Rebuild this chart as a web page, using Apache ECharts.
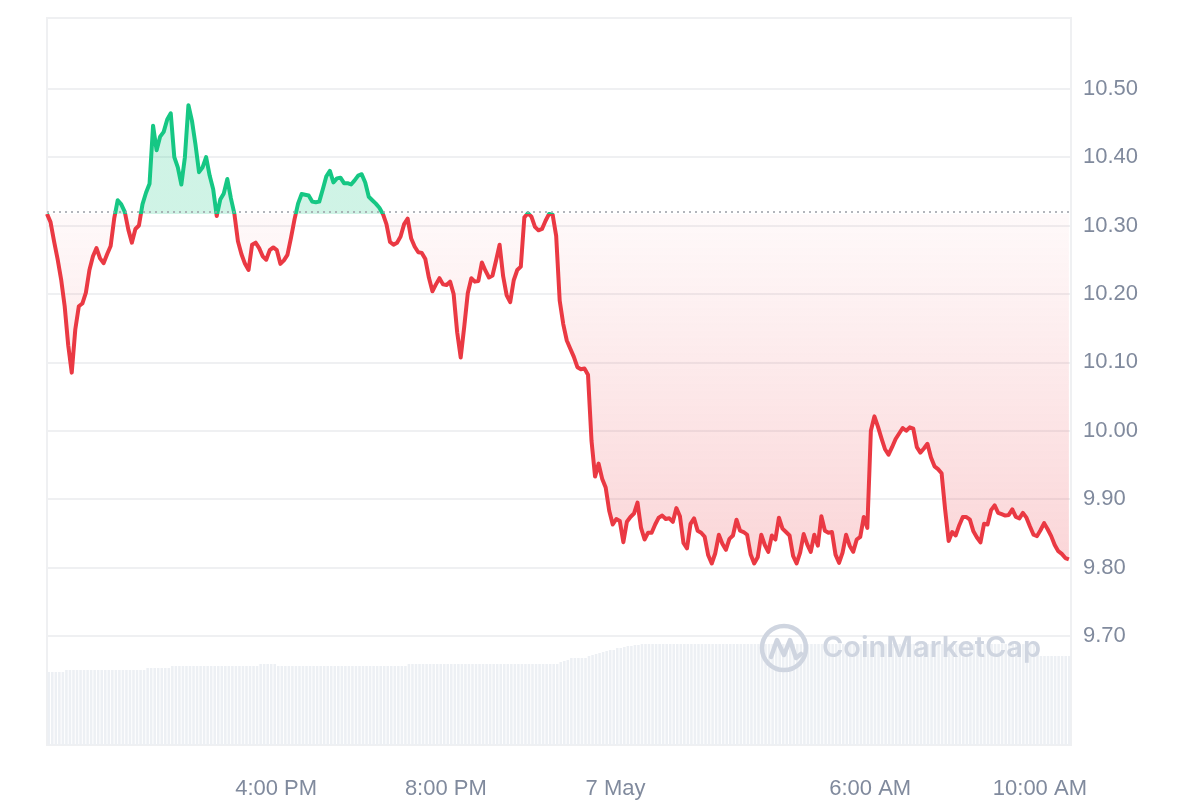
<!DOCTYPE html>
<html>
<head>
<meta charset="utf-8">
<title>Price chart</title>
<script src="https://cdn.jsdelivr.net/npm/echarts@6/dist/echarts.min.js"></script>
<style>
  html, body { margin: 0; padding: 0; background: #fff; }
  #chart { width: 1200px; height: 800px; }
</style>
</head>
<body>
<div id="chart"></div>
<script>
// price every 5 minutes, 6 May 10:36 -> 7 May 10:41
const prices = [
  10.317, 10.305, 10.277, 10.251, 10.221, 10.182, 10.125, 10.085, 10.148, 10.182,
  10.186, 10.202, 10.235, 10.255, 10.267, 10.252, 10.245, 10.258, 10.270, 10.310,
  10.337, 10.331, 10.320, 10.294, 10.275, 10.295, 10.300, 10.331, 10.348, 10.361,
  10.446, 10.410, 10.430, 10.437, 10.455, 10.464, 10.400, 10.385, 10.360, 10.400,
  10.476, 10.453, 10.418, 10.378, 10.385, 10.400, 10.373, 10.353, 10.314, 10.338,
  10.347, 10.368, 10.340, 10.317, 10.277, 10.258, 10.244, 10.235, 10.272, 10.275,
  10.267, 10.255, 10.250, 10.264, 10.268, 10.264, 10.244, 10.249, 10.257, 10.282,
  10.309, 10.332, 10.346, 10.345, 10.344, 10.335, 10.334, 10.335, 10.353, 10.372,
  10.380, 10.363, 10.369, 10.370, 10.362, 10.362, 10.360, 10.366, 10.373, 10.375,
  10.363, 10.342, 10.337, 10.332, 10.326, 10.317, 10.302, 10.276, 10.272, 10.275,
  10.284, 10.302, 10.310, 10.281, 10.269, 10.261, 10.260, 10.251, 10.224, 10.204,
  10.214, 10.223, 10.214, 10.213, 10.218, 10.200, 10.144, 10.107, 10.152, 10.201,
  10.223, 10.218, 10.219, 10.246, 10.234, 10.224, 10.227, 10.249, 10.272, 10.226,
  10.198, 10.188, 10.220, 10.235, 10.240, 10.312, 10.318, 10.313, 10.298, 10.293,
  10.295, 10.307, 10.317, 10.316, 10.285, 10.190, 10.156, 10.132, 10.120, 10.108,
  10.093, 10.090, 10.091, 10.082, 9.985, 9.933, 9.952, 9.930, 9.917, 9.883,
  9.863, 9.871, 9.868, 9.837, 9.867, 9.874, 9.879, 9.895, 9.858, 9.841,
  9.851, 9.851, 9.863, 9.873, 9.876, 9.871, 9.872, 9.867, 9.887, 9.875,
  9.836, 9.828, 9.864, 9.872, 9.854, 9.851, 9.845, 9.818, 9.806, 9.821,
  9.848, 9.835, 9.826, 9.842, 9.847, 9.870, 9.854, 9.852, 9.848, 9.819,
  9.806, 9.815, 9.848, 9.833, 9.823, 9.847, 9.841, 9.873, 9.857, 9.852,
  9.847, 9.817, 9.806, 9.822, 9.849, 9.834, 9.823, 9.848, 9.832, 9.875,
  9.854, 9.851, 9.852, 9.819, 9.807, 9.822, 9.848, 9.832, 9.823, 9.841,
  9.845, 9.874, 9.858, 10.000, 10.021, 10.006, 9.989, 9.973, 9.965, 9.976,
  9.988, 9.996, 10.004, 10.000, 10.005, 10.003, 9.976, 9.968, 9.974, 9.981,
  9.961, 9.948, 9.944, 9.938, 9.885, 9.839, 9.852, 9.847, 9.862, 9.874,
  9.874, 9.870, 9.853, 9.844, 9.837, 9.864, 9.863, 9.884, 9.891, 9.880,
  9.878, 9.876, 9.877, 9.885, 9.874, 9.872, 9.880, 9.873, 9.860, 9.848,
  9.846, 9.855, 9.865, 9.856, 9.846, 9.833, 9.824, 9.820, 9.814, 9.812
];

// 24h volume (millions), one bar per price point
const volumes = [
  7.3, 7.3, 7.3, 7.3, 7.3, 7.5, 7.5, 7.5, 7.5, 7.5,
  7.5, 7.5, 7.5, 7.5, 7.5, 7.5, 7.5, 7.5, 7.5, 7.5,
  7.5, 7.5, 7.5, 7.5, 7.5, 7.5, 7.5, 7.5, 7.7, 7.7,
  7.7, 7.7, 7.7, 7.7, 7.7, 7.9, 7.9, 7.9, 7.9, 7.9,
  7.9, 7.9, 7.9, 7.9, 7.9, 7.9, 7.9, 7.9, 7.9, 7.9,
  7.9, 7.9, 7.9, 7.9, 7.9, 7.9, 7.9, 7.9, 7.9, 7.9,
  8.1, 8.1, 8.1, 8.1, 8.1, 7.9, 7.9, 7.9, 7.9, 7.9,
  7.9, 7.9, 7.9, 7.9, 7.9, 7.9, 7.9, 7.9, 7.9, 7.9,
  7.9, 7.9, 7.9, 7.9, 7.9, 7.9, 7.9, 7.9, 7.9, 7.9,
  7.9, 7.9, 7.9, 7.9, 7.9, 7.9, 7.9, 7.9, 7.9, 7.9,
  7.9, 7.9, 8.1, 8.1, 8.1, 8.1, 8.1, 8.1, 8.1, 8.1,
  8.1, 8.1, 8.1, 8.1, 8.1, 8.1, 8.1, 8.1, 8.1, 8.1,
  8.1, 8.1, 8.1, 8.1, 8.1, 8.1, 8.1, 8.1, 8.1, 8.1,
  8.1, 8.1, 8.1, 8.1, 8.1, 8.1, 8.1, 8.1, 8.1, 8.1,
  8.1, 8.1, 8.1, 8.1, 8.1, 8.3, 8.4, 8.5, 8.7, 8.7,
  8.7, 8.7, 8.7, 8.9, 9.0, 9.1, 9.2, 9.3, 9.4, 9.5,
  9.5, 9.7, 9.7, 9.8, 9.9, 9.9, 10.0, 10.0, 10.1, 10.1,
  10.1, 10.1, 10.1, 10.1, 10.1, 10.1, 10.1, 10.1, 10.1, 10.1,
  10.1, 10.1, 10.1, 10.1, 10.1, 10.1, 10.1, 10.1, 10.1, 10.1,
  10.1, 10.1, 10.1, 10.1, 10.1, 10.1, 10.1, 10.1, 10.1, 10.1,
  10.1, 10.1, 10.1, 10.1, 10.1, 10.1, 10.1, 10.1, 10.1, 10.1,
  10.1, 10.1, 10.1, 10.1, 10.1, 10.1, 10.1, 10.1, 10.1, 10.1,
  10.1, 10.1, 10.1, 10.1, 10.1, 10.1, 10.1, 10.1, 10.1, 10.1,
  10.1, 10.1, 10.1, 10.1, 10.1, 10.1, 10.1, 10.1, 10.1, 10.1,
  10.1, 10.1, 10.1, 10.1, 10.1, 10.1, 10.1, 10.1, 10.1, 10.1,
  10.1, 10.1, 10.1, 10.1, 10.1, 10.1, 10.1, 10.1, 10.1, 10.1,
  10.1, 10.1, 10.1, 10.1, 10.1, 10.1, 10.1, 10.1, 10.1, 10.1,
  10.1, 10.1, 10.1, 10.1, 10.1, 10.1, 10.1, 10.1, 10.1, 10.1,
  10.1, 8.9, 8.9, 8.9, 8.9, 8.9, 8.9, 8.9, 8.9, 8.9
];

// opening price, dotted reference line
const baseline = 10.317;

const startTime = new Date(2024, 4, 6, 10, 36).getTime();
const endTime = new Date(2024, 4, 7, 10, 44).getTime();
const stepMs = 5 * 60 * 1000;

const tickTimes = [
  new Date(2024, 4, 6, 16, 0).getTime(),
  new Date(2024, 4, 6, 20, 0).getTime(),
  new Date(2024, 4, 7, 0, 0).getTime(),
  new Date(2024, 4, 7, 6, 0).getTime(),
  new Date(2024, 4, 7, 10, 0).getTime()
];
const tickLabels = ['4:00 PM', '8:00 PM', '7 May', '6:00 AM', '10:00 AM'];

const yMin = 9.70;
const yMax = 10.599;

const priceData = prices.map((p, i) => [startTime + i * stepMs, p]);

const green = '#16c784';
const red = '#ea3943';
const gridLine = '#eff0f2';
const labelStyle = {
  color: '#808a9d',
  fontSize: 22,
  fontFamily: 'Liberation Sans, Arial, sans-serif'
};
const markColor = '#cfd5e0';
const lineWidth = 4;

let chart = echarts.init(document.getElementById('chart'));

let option = {
  animation: false,
  grid: [
    { left: 47, right: 129, top: 21, bottom: 164 },
    { left: 47, right: 129, top: 18, bottom: 55, show: true, borderColor: gridLine, borderWidth: 2 }
  ],
  xAxis: [
    { type: 'value', gridIndex: 0, min: startTime, max: endTime, show: false },
    {
      type: 'value', gridIndex: 1, min: startTime, max: endTime,
      axisLine: { show: false },
      axisTick: { show: false },
      splitLine: { show: false },
      axisLabel: Object.assign({
        customValues: tickTimes,
        margin: 33,
        formatter: function (v) {
          let k = tickTimes.indexOf(v);
          return k >= 0 ? tickLabels[k] : '';
        }
      }, labelStyle)
    },
    { type: 'category', gridIndex: 1, data: volumes.map((v, i) => i), show: false, boundaryGap: true }
  ],
  yAxis: [
    {
      type: 'value', gridIndex: 0, position: 'right',
      min: yMin, max: yMax, interval: 0.1,
      axisLine: { show: false },
      axisTick: { show: false },
      splitLine: { showMaxLine: false, lineStyle: { color: gridLine, width: 2 } },
      axisLabel: Object.assign({
        margin: 12,
        showMaxLabel: false,
        formatter: function (v) { return v > 10.55 ? '' : v.toFixed(2); }
      }, labelStyle)
    },
    { type: 'value', gridIndex: 1, min: 0, max: 72.7, show: false }
  ],
  series: [
    {
      type: 'bar',
      xAxisIndex: 2,
      yAxisIndex: 1,
      data: volumes,
      barCategoryGap: '28%',
      itemStyle: { color: '#edf0f4' },
      silent: true,
      z: 1
    },
    {
      type: 'line',
      xAxisIndex: 0,
      yAxisIndex: 0,
      data: priceData,
      showSymbol: false,
      symbol: 'none',
      lineStyle: { width: lineWidth, color: red, join: 'round' },
      areaStyle: { origin: baseline, color: 'rgba(234,57,67,0.15)' },
      markLine: {
        silent: true,
        symbol: ['none', 'none'],
        label: { show: false },
        lineStyle: { type: [2, 4], color: '#9a9ea6', width: 1.6 },
        data: [{ yAxis: baseline }]
      },
      z: 3
    }
  ],
  graphic: [
    {
      type: 'circle', z: 10, silent: true,
      shape: { cx: 784, cy: 648, r: 22 },
      style: { fill: 'none', stroke: markColor, lineWidth: 4.5 }
    },
    {
      type: 'polyline', z: 10, silent: true,
      shape: { points: [[771, 657], [777, 640], [784, 655], [790, 640], [796, 658], [801, 654]] },
      style: { fill: 'none', stroke: markColor, lineWidth: 4.5, lineJoin: 'round', lineCap: 'round' }
    },
    {
      type: 'text', z: 10, silent: true,
      left: 822, top: 634,
      style: { text: 'CoinMarketCap', fill: markColor, font: '600 29px Inter, "Noto Sans", sans-serif' }
    }
  ]
};

chart.setOption(option);

// split the colours at the baseline using pixel positions of the price axis
const yTop = chart.convertToPixel({ yAxisIndex: 0 }, yMax);
const yBase = chart.convertToPixel({ yAxisIndex: 0 }, baseline);
const yLow = chart.convertToPixel({ yAxisIndex: 0 }, 9.80);
const off = (yBase - yTop) / (yLow - yTop);
const G = echarts.graphic.LinearGradient;

const lineColor = new G(0, yTop, 0, yLow, [
  { offset: 0, color: green },
  { offset: off, color: green },
  { offset: off, color: red },
  { offset: 1, color: red }
], true);
const areaColor = new G(0, yTop, 0, yLow, [
  { offset: 0, color: 'rgba(22,199,132,0.29)' },
  { offset: off, color: 'rgba(22,199,132,0.29)' },
  { offset: off, color: 'rgba(234,57,67,0.04)' },
  { offset: 1, color: 'rgba(234,57,67,0.30)' }
], true);

chart.setOption({
  series: [{}, { lineStyle: { width: lineWidth, color: lineColor }, areaStyle: { color: areaColor } }]
});

window.addEventListener('resize', () => {
  chart.resize();
});
</script>
</body>
</html>
